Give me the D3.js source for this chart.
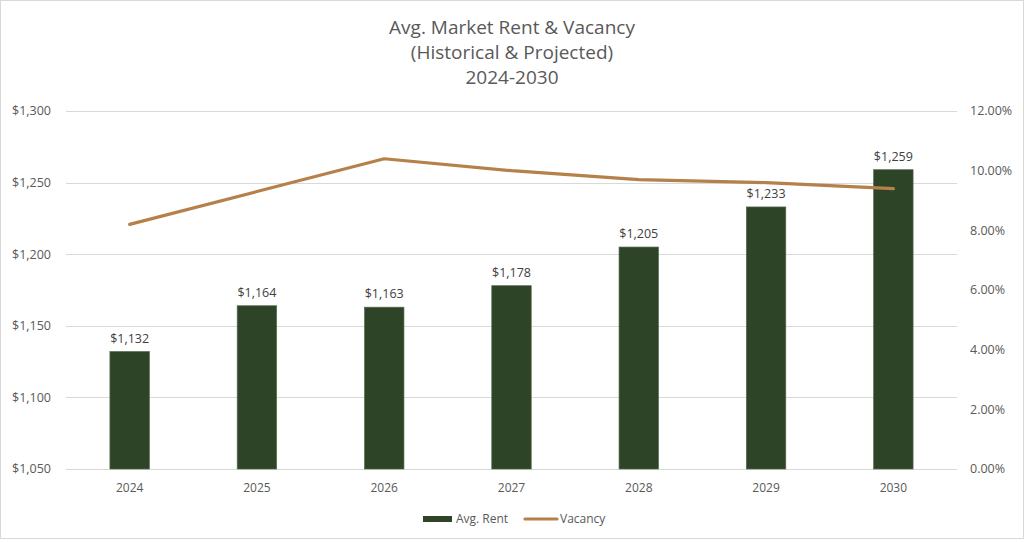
<!DOCTYPE html>
<html>
<head>
<meta charset="utf-8">
<script src="https://cdn.jsdelivr.net/npm/d3@7"></script>
<style>
  html, body { margin: 0; padding: 0; background: #fff; }
  svg text { font-family: "Open Sans", "Noto Sans", sans-serif; }
</style>
</head>
<body>
<div id="chart"></div>
<script>
// Chart data
const years = ['2024', '2025', '2026', '2027', '2028', '2029', '2030'];
const avgRent = [1132, 1164, 1163, 1178, 1205, 1233, 1259];
const vacancy = [8.2, 9.3, 10.4, 10.0, 9.7, 9.6, 9.4];
const rentTicks = [1050, 1100, 1150, 1200, 1250, 1300];
const vacancyTicks = [0, 2, 4, 6, 8, 10, 12];
const titleLines = ['Avg. Market Rent & Vacancy', '(Historical & Projected)', '2024-2030'];

const W = 1024;
const H = 542;
const margin = { top: 111, right: 67, bottom: 73, left: 66 };
const width = W - margin.left - margin.right;
const height = H - margin.top - margin.bottom;

const BAR_COLOR = '#2e4427';
const LINE_COLOR = '#b5804a';
const TEXT_COLOR = '#595959';

const svg = d3.select('#chart').append('svg')
  .attr('width', W)
  .attr('height', H);

// Outer chart border
svg.append('rect')
  .attr('x', 0.5).attr('y', 0.5)
  .attr('width', W - 1).attr('height', H - 4)
  .attr('fill', '#fff')
  .attr('stroke', '#d9d9d9');

// Title
svg.append('g')
  .selectAll('text')
  .data(titleLines)
  .enter().append('text')
  .attr('x', W / 2)
  .attr('y', (d, i) => 34 + i * 25)
  .attr('text-anchor', 'middle')
  .attr('fill', TEXT_COLOR)
  .style('font-size', '19px')
  .text(d => d);

const g = svg.append('g')
  .attr('transform', `translate(${margin.left},${margin.top})`);

// Scales
const x = d3.scaleBand()
  .domain(years)
  .range([0, width])
  .paddingInner(0.69)
  .paddingOuter(0.345);

const xCenter = d3.scalePoint()
  .domain(years)
  .range([0, width])
  .padding(0.5);

const yLeft = d3.scaleLinear()
  .domain([1050, 1300])
  .range([height, 0]);

const yRight = d3.scaleLinear()
  .domain([0, 12])
  .range([height, 0]);

// Gridlines (left axis)
g.append('g')
  .selectAll('line')
  .data(rentTicks)
  .enter().append('line')
  .attr('x1', 0)
  .attr('x2', width)
  .attr('y1', d => Math.round(yLeft(d)) + 0.5)
  .attr('y2', d => Math.round(yLeft(d)) + 0.5)
  .attr('stroke', '#d9d9d9')
  .attr('stroke-width', 1);

// Left axis labels
const fmtRent = d3.format('$,');
g.append('g')
  .selectAll('text')
  .data(rentTicks)
  .enter().append('text')
  .attr('x', -15)
  .attr('y', d => yLeft(d))
  .attr('dy', '0.35em')
  .attr('text-anchor', 'end')
  .attr('fill', TEXT_COLOR)
  .style('font-size', '12.5px')
  .text(d => fmtRent(d));

// Right axis labels
g.append('g')
  .selectAll('text')
  .data(vacancyTicks)
  .enter().append('text')
  .attr('x', width + 13)
  .attr('y', d => yRight(d))
  .attr('dy', '0.35em')
  .attr('text-anchor', 'start')
  .attr('fill', TEXT_COLOR)
  .style('font-size', '12.5px')
  .text(d => `${d.toFixed(2)}%`);

// X axis labels
g.append('g')
  .selectAll('text')
  .data(years)
  .enter().append('text')
  .attr('x', d => xCenter(d))
  .attr('y', height + 23)
  .attr('text-anchor', 'middle')
  .attr('fill', TEXT_COLOR)
  .style('font-size', '12px')
  .text(d => d);

// Bars
g.append('g')
  .selectAll('rect')
  .data(avgRent)
  .enter().append('rect')
  .attr('x', (d, i) => x(years[i]))
  .attr('y', d => yLeft(d))
  .attr('width', x.bandwidth())
  .attr('height', d => height - yLeft(d))
  .attr('fill', BAR_COLOR)
  .attr('stroke', '#566b4f')
  .attr('stroke-width', 0.7);

// Bar value labels
g.append('g')
  .selectAll('text')
  .data(avgRent)
  .enter().append('text')
  .attr('x', (d, i) => xCenter(years[i]))
  .attr('y', d => yLeft(d) - 9)
  .attr('text-anchor', 'middle')
  .attr('fill', '#404040')
  .style('font-size', '12.5px')
  .text(d => fmtRent(d));

// Vacancy line
const line = d3.line()
  .x((d, i) => xCenter(years[i]))
  .y(d => yRight(d));

g.append('path')
  .datum(vacancy)
  .attr('d', line)
  .attr('fill', 'none')
  .attr('stroke', LINE_COLOR)
  .attr('stroke-width', 3.2)
  .attr('stroke-linecap', 'round')
  .attr('stroke-linejoin', 'round');

// Legend
const legend = svg.append('g')
  .attr('transform', 'translate(0,519)');

legend.append('rect')
  .attr('x', 423).attr('y', -3)
  .attr('width', 29).attr('height', 6)
  .attr('fill', BAR_COLOR);

legend.append('text')
  .attr('x', 456).attr('y', 0)
  .attr('dy', '0.35em')
  .attr('fill', TEXT_COLOR)
  .style('font-size', '12px')
  .text('Avg. Rent');

legend.append('line')
  .attr('x1', 525).attr('x2', 557)
  .attr('y1', 0).attr('y2', 0)
  .attr('stroke', LINE_COLOR)
  .attr('stroke-width', 3.2)
  .attr('stroke-linecap', 'round');

legend.append('text')
  .attr('x', 560).attr('y', 0)
  .attr('dy', '0.35em')
  .attr('fill', TEXT_COLOR)
  .style('font-size', '12px')
  .text('Vacancy');
</script>
</body>
</html>
